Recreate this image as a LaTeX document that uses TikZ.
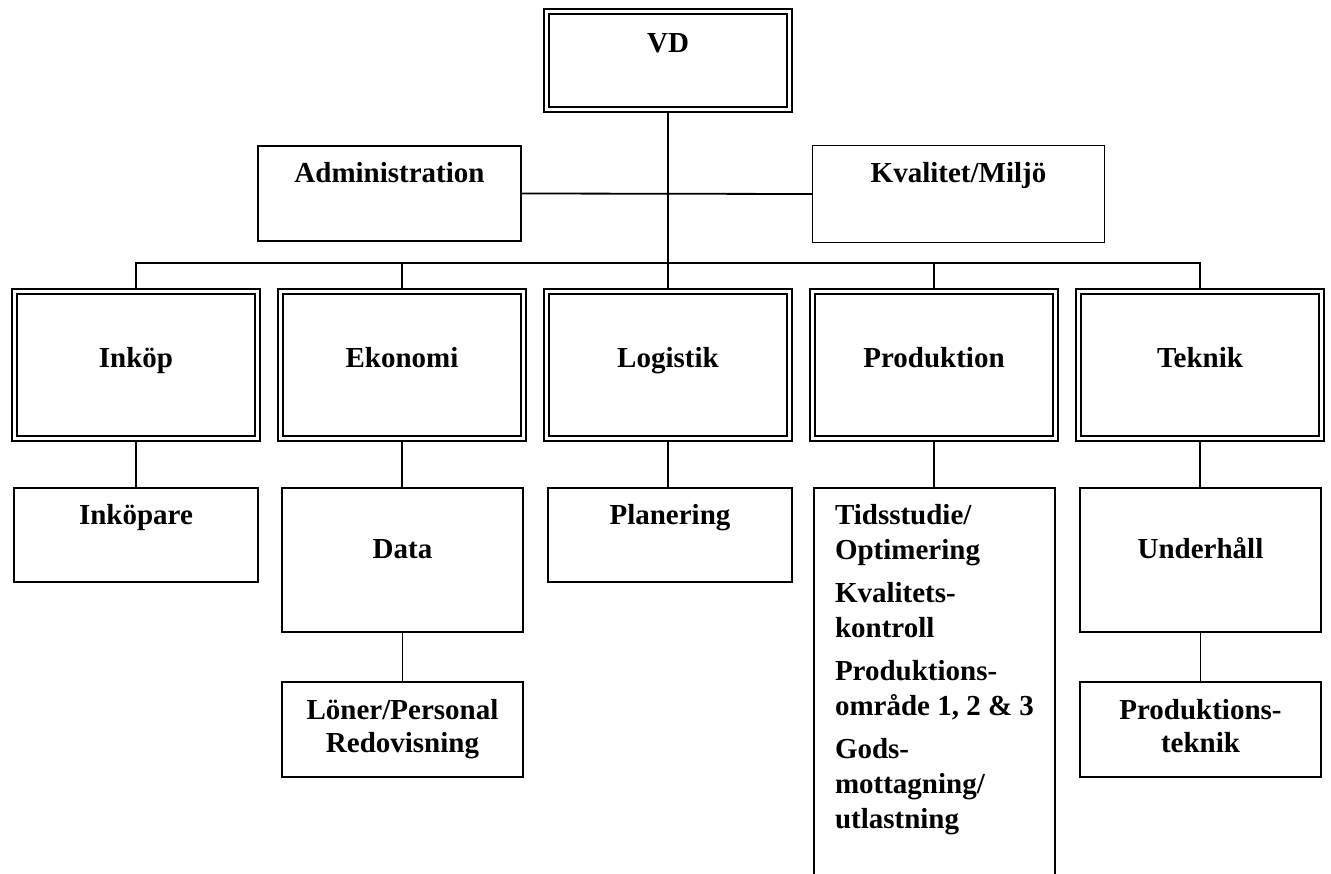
\documentclass[tikz,border=0pt]{standalone}
\usepackage{fontspec}
\setmainfont{Liberation Serif}
\usetikzlibrary{backgrounds}
\begin{document}
\begin{tikzpicture}[x=1pt,y=-1pt,
  every node/.style={inner sep=0pt, outer sep=0pt},
  head/.style={draw, rectangle, line width=2.2pt, double=white, double distance=3pt,
    minimum width=242.6pt, minimum height=146.6pt},
  unit/.style={draw, rectangle, line width=2pt, fill=white},
  link/.style={line width=1.8pt},
  lbl/.style={anchor=base, font=\bfseries\fontsize{29}{33}\selectfont, align=center}
]
\useasboundingbox (0,0) rectangle (1331,874);
\clip (0,0) rectangle (1331,874);

% top level
\node[head, minimum height=97.6pt] (vd) at (668,60.5) {};
\node[lbl] (vdT) at (668,53) {VD};

% staff functions
\node[unit, minimum width=263pt, minimum height=95pt] (admin) at (389.5,193.5) {};
\node[lbl] (adminT) at (389.5,183) {Administration};
\node[draw, rectangle, line width=1pt, fill=white, minimum width=292pt, minimum height=97pt] (kval) at (958.5,194) {};
\node[lbl] (kvalT) at (958.5,183) {Kvalitet/Miljö};

% departments
\node[head] (inkop) at (136,365) {};
\node[head] (ekonomi) at (402,365) {};
\node[head] (logistik) at (668,365) {};
\node[head] (produktion) at (934,365) {};
\node[head] (teknik) at (1200,365) {};
\node[lbl] (inkopT) at (136,368) {Inköp};
\node[lbl] (ekonomiT) at (402,368) {Ekonomi};
\node[lbl] (logistikT) at (668,368) {Logistik};
\node[lbl] (produktionT) at (934,368) {Produktion};
\node[lbl] (teknikT) at (1200,368) {Teknik};

% sub units (multi-line labels are placed by the baseline of their last line)
\node[unit, minimum width=244pt, minimum height=94pt] (inkopare) at (136,535) {};
\node[lbl] (inkopareT) at (136,524) {Inköpare};
\node[unit, minimum width=241pt, minimum height=144pt] (data) at (402.5,560) {};
\node[lbl] (dataT) at (402.5,558) {Data};
\node[unit, minimum width=241pt, minimum height=95pt] (loner) at (402.5,729.5) {};
\node[lbl] (lonerT) at (402.5,752) {Löner/Personal\\Redovisning};
\node[unit, minimum width=244pt, minimum height=94pt] (planering) at (670,535) {};
\node[lbl] (planeringT) at (670,524) {Planering};
\node[unit, minimum width=241pt, minimum height=412pt] (prodsub) at (934.5,694) {};
\node[lbl, anchor=base west, align=left, font=\bfseries\fontsize{29}{35}\selectfont] (prodsubT) at (835,828)
  {Tidsstudie/\\Optimering\\[8pt]Kvalitets-\\kontroll\\[8pt]Produktions-\\område 1, 2 \& 3\\[8pt]Gods-\\mottagning/\\utlastning};
\node[unit, minimum width=241pt, minimum height=144pt] (underhall) at (1200.5,560) {};
\node[lbl] (underhallT) at (1200.5,558) {Underhåll};
\node[unit, minimum width=241pt, minimum height=95pt] (prodteknik) at (1200.5,729.5) {};
\node[lbl] (prodteknikT) at (1200.5,752) {Produktions-\\teknik};

\coordinate (bus) at (668,263);

\begin{scope}[on background layer]
  \fill[white] (0,0) rectangle (1331,874);
  \draw[link] (vd.south) -- (vd.south |- logistik.north);
  \draw[link] (admin.east) -- (kval.west);
  \draw[link] (inkop.north) -- (inkop.north |- bus) -- (teknik.north |- bus) -- (teknik.north);
  \draw[link] (ekonomi.north) -- (ekonomi.north |- bus);
  \draw[link] (produktion.north) -- (produktion.north |- bus);
  \draw[link] (inkop.south) -- (inkopare.north);
  \draw[link] (ekonomi.south) -- (ekonomi.south |- data.north);
  \draw[link] (data.south) -- (loner.north);
  \draw[link] (logistik.south) -- (logistik.south |- planering.north);
  \draw[link] (produktion.south) -- (produktion.south |- prodsub.north);
  \draw[link] (teknik.south) -- (teknik.south |- underhall.north);
  \draw[link] (underhall.south) -- (prodteknik.north);
\end{scope}
\end{tikzpicture}
\end{document}
